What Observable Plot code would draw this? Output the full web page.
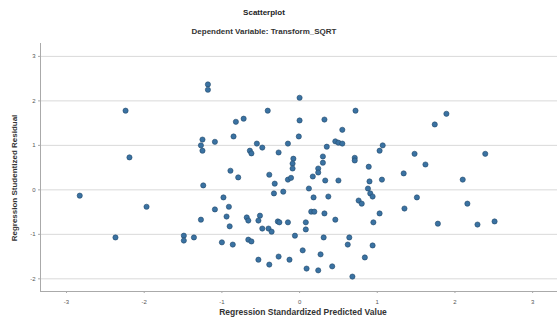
<!DOCTYPE html>
<html>
<head>
<meta charset="utf-8">
<script src="https://cdn.jsdelivr.net/npm/d3@7"></script>
<script src="https://cdn.jsdelivr.net/npm/@observablehq/plot@0.6"></script>
<style>
  body { margin: 0; background: #fff; font-family: "Liberation Sans", Arial, sans-serif; }
  #wrap { width: 557px; height: 326px; position: relative; overflow: hidden; }
  .t { position: absolute; left: 0; width: 528px; text-align: center; color: #222; }
  #title { top: 8px; font-size: 8px; font-weight: bold; }
  #subtitle { top: 27px; font-size: 8px; font-weight: bold; color: #333; }
  #chart { position: absolute; left: 0; top: 42px; }
</style>
</head>
<body>
<div id="wrap">
  <div class="t" id="title">Scatterplot</div>
  <div class="t" id="subtitle">Dependent Variable: Transform_SQRT</div>
  <div id="chart"></div>
</div>
<script>
const title = "Scatterplot";
const subtitle = "Dependent Variable: Transform_SQRT";
const xLabel = "Regression Standardized Predicted Value";
const yLabel = "Regression Studentized Residual";
const xTicks = [-3, -2, -1, 0, 1, 2, 3];
const yTicks = [-2, -1, 0, 1, 2, 3];
const xDomain = [-3.335, 3.32];
const yDomain = [-2.285, 3.29];

const predicted = [
  -2.24, -2.19, -2.83, -1.97, -2.37, -1.49, -1.49, -1.36,
  -1.18, -1.18, -0.41, -0.82, -0.72, 0.00, 0.00, -0.01, -1.25, -1.27, -1.25, -1.09,
  -0.85, -0.55, -0.48, -0.64, -0.62, -0.27, -0.15, -0.08, -0.09, -0.09, -0.89, -0.79,
  -0.39, -0.15, -0.11, -0.32, -0.33, -0.21, -1.24, -0.98, -1.09, -0.91, -1.27, -0.94,
  -0.90, -0.68, -0.66, -0.51, -0.53, -0.48, -0.40, -0.36, -0.28, -0.26, -0.15, -0.06,
  -1.00, -0.86, -0.66, -0.62, -0.53, -0.39, -0.27, -0.13,
  0.72, 0.32, 0.55, 0.46, 0.50, 0.55, 0.35, 1.07, 1.03, 0.30, 0.30, 0.71, 0.71, 0.89,
  0.24, 0.17, 0.24, 0.33, 0.50, 0.90, 1.06, 0.12, 0.18, 0.37, 0.88, 0.91, 0.94, 0.76,
  0.80, 0.15, 0.19, 0.32, 0.46, 1.03, 0.95, 0.08, 0.08, 0.31, 0.64, 0.62, 0.94, 0.04,
  0.27, 0.84, 0.09, 0.24, 0.42, 0.68,
  1.89, 1.74, 1.48, 2.39, 1.62, 1.34, 2.10, 1.51, 2.16, 1.35, 1.78, 2.29, 2.51
];
const residual = [
  1.78, 0.73, -0.13, -0.38, -1.07, -1.03, -1.14, -1.07,
  2.37, 2.25, 1.78, 1.53, 1.60, 2.07, 1.56, 1.20, 1.13, 1.00, 0.88, 1.08,
  1.20, 1.04, 0.95, 0.88, 0.82, 0.84, 1.04, 0.70, 0.59, 0.48, 0.43, 0.28,
  0.34, 0.23, 0.27, 0.14, -0.08, -0.04, 0.10, -0.17, -0.44, -0.38, -0.67, -0.60,
  -0.82, -0.62, -0.69, -0.58, -0.69, -0.87, -0.87, -0.94, -0.71, -0.73, -0.73, -1.03,
  -1.18, -1.23, -1.12, -1.16, -1.57, -1.68, -1.50, -1.57,
  1.78, 1.58, 1.35, 1.09, 1.06, 1.04, 0.97, 1.00, 0.88, 0.75, 0.61, 0.72, 0.66, 0.52,
  0.48, 0.30, 0.39, 0.21, 0.21, 0.19, 0.23, 0.03, -0.17, -0.15, 0.03, -0.08, -0.15, -0.24,
  -0.31, -0.49, -0.49, -0.53, -0.67, -0.53, -0.73, -0.73, -0.89, -1.07, -1.07, -1.23, -1.25, -1.36,
  -1.45, -1.52, -1.77, -1.81, -1.72, -1.95,
  1.71, 1.47, 0.81, 0.81, 0.57, 0.37, 0.23, -0.17, -0.31, -0.42, -0.76, -0.78, -0.71
];

const data = predicted.map((x, i) => ({x, y: residual[i]}));
const fmt = d => String(d);

const chart = Plot.plot({
  width: 557,
  height: 284,
  marginLeft: 40,
  marginRight: 0,
  marginTop: 1,
  marginBottom: 35,
  style: {fontFamily: "'Liberation Sans', Arial, sans-serif", fontSize: "6px", color: "#555", background: "#fff"},
  x: {domain: xDomain, label: null},
  y: {domain: yDomain, label: null},
  marks: [
    Plot.gridY(yTicks, {stroke: "#d9d9d9", strokeOpacity: 1, strokeWidth: 1}),
    Plot.ruleX([xDomain[0]], {stroke: "#aaa"}),
    Plot.ruleY([yDomain[0]], {stroke: "#aaa"}),
    Plot.axisX({ticks: xTicks, tickFormat: fmt, tickSize: 2, tickPadding: 6, stroke: "#aaa", fill: "#555", label: null}),
    Plot.axisY({ticks: yTicks, tickFormat: fmt, tickSize: 2, tickPadding: 3, stroke: "#aaa", fill: "#555", label: null}),
    Plot.dot(data, {x: "x", y: "y", r: 2.6, fill: "#3a72a2", stroke: "#24496b", strokeWidth: 0.6})
  ]
});

const svg = d3.select(chart);
svg.append("text")
  .attr("x", 303).attr("y", 273)
  .attr("text-anchor", "middle")
  .attr("font-size", "8.5px").attr("font-weight", "bold").attr("fill", "#333")
  .text(xLabel);
svg.append("text")
  .attr("transform", "translate(17,136) rotate(-90)")
  .attr("text-anchor", "middle")
  .attr("font-size", "8px").attr("font-weight", "bold").attr("fill", "#333")
  .text(yLabel);

document.getElementById("chart").appendChild(chart);
</script>
</body>
</html>
